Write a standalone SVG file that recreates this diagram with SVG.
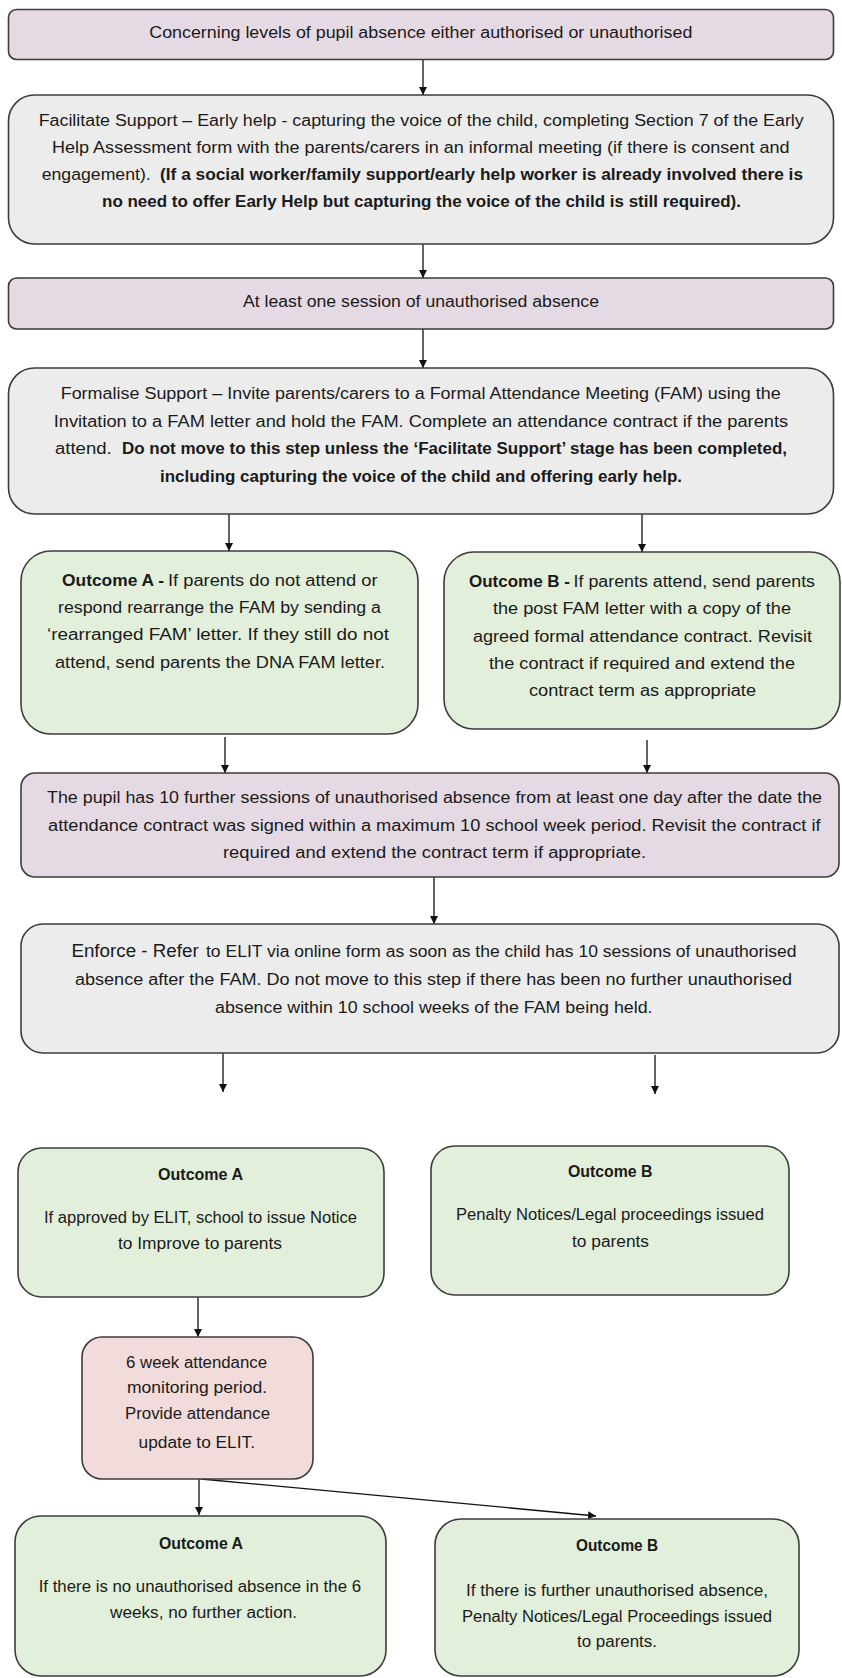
<svg xmlns="http://www.w3.org/2000/svg" width="842" height="1678" viewBox="0 0 842 1678">
<style>
.box{stroke:#3c3c3c;stroke-width:1.6}
.pu{fill:#e5d9e3}.gr{fill:#ececec}.gn{fill:#e2efda}.pk{fill:#f2dcdb}
text{font-family:"Liberation Sans",Arial,sans-serif;font-size:16px;fill:#1a1a1a}
.b{font-weight:bold}
.big{font-size:18px}
.c{stroke:#111;stroke-width:1.3;fill:none;marker-end:url(#ah)}
</style>
<defs>
<marker id="ah" markerWidth="10" markerHeight="10" refX="8" refY="4" orient="auto" markerUnits="userSpaceOnUse">
<path d="M0,0 L8,4 L0,8 Z" fill="#111"/>
</marker>
</defs>
<rect width="842" height="1678" fill="#ffffff"/>
<g id="connectors">
<path class="c" d="M423,59 V95"/>
<path class="c" d="M423,244 V278"/>
<path class="c" d="M423,329 V368"/>
<path class="c" d="M229,514 V551"/>
<path class="c" d="M642,514 V552"/>
<path class="c" d="M225,737 V773"/>
<path class="c" d="M647,740 V773"/>
<path class="c" d="M434,877 V924"/>
<path class="c" d="M223,1053 V1092"/>
<path class="c" d="M655,1055 V1094"/>
<path class="c" d="M198,1297 V1337"/>
<path class="c" d="M199,1479 V1515"/>
<path class="c" d="M201,1479 L596,1516"/>
</g>
<g id="n1">
<rect class="box pu" x="8.5" y="9.5" width="825" height="50" rx="8"/>
<text x="149.3" y="38" textLength="543" lengthAdjust="spacingAndGlyphs">Concerning levels of pupil absence either authorised or unauthorised</text>
</g>
<g id="n2">
<rect class="box gr" x="8.5" y="95" width="825" height="149" rx="26"/>
<text x="38.7" y="126" textLength="765" lengthAdjust="spacingAndGlyphs">Facilitate Support – Early help - capturing the voice of the child, completing Section 7 of the Early</text>
<text x="52" y="153" textLength="737.5" lengthAdjust="spacingAndGlyphs">Help Assessment form with the parents/carers in an informal meeting (if there is consent and</text>
<text x="41.7" y="180" textLength="109" lengthAdjust="spacingAndGlyphs">engagement).</text>
<text class="b" x="160" y="180" textLength="643" lengthAdjust="spacingAndGlyphs">(If a social worker/family support/early help worker is already involved there is</text>
<text class="b" x="102" y="207" textLength="639" lengthAdjust="spacingAndGlyphs">no need to offer Early Help but capturing the voice of the child is still required).</text>
</g>
<g id="n3">
<rect class="box pu" x="8.5" y="278" width="825" height="51" rx="8"/>
<text x="243" y="307" textLength="356" lengthAdjust="spacingAndGlyphs">At least one session of unauthorised absence</text>
</g>
<g id="n4">
<rect class="box gr" x="8.5" y="368" width="825" height="146" rx="26"/>
<text x="60.7" y="399" textLength="720" lengthAdjust="spacingAndGlyphs">Formalise Support – Invite parents/carers to a Formal Attendance Meeting (FAM) using the</text>
<text x="53.7" y="427" textLength="734.5" lengthAdjust="spacingAndGlyphs">Invitation to a FAM letter and hold the FAM.  Complete an attendance contract if the parents</text>
<text x="55" y="454" textLength="56.7" lengthAdjust="spacingAndGlyphs">attend.</text>
<text class="b" x="122" y="454" textLength="665" lengthAdjust="spacingAndGlyphs">Do not move to this step unless the ‘Facilitate Support’ stage has been completed,</text>
<text class="b" x="160" y="482" textLength="522" lengthAdjust="spacingAndGlyphs">including capturing the voice of the child and offering early help.</text>
</g>
<g id="n5">
<rect class="box gn" x="21" y="551" width="397" height="183" rx="30"/>
<text class="b" x="62" y="586" textLength="102" lengthAdjust="spacingAndGlyphs">Outcome A -</text>
<text x="168" y="586" textLength="209.5" lengthAdjust="spacingAndGlyphs">If parents do not attend or</text>
<text x="58" y="613" textLength="323" lengthAdjust="spacingAndGlyphs">respond rearrange the FAM by sending a</text>
<text x="47" y="640" textLength="342" lengthAdjust="spacingAndGlyphs">‘rearranged FAM’ letter.  If they still do not</text>
<text x="55" y="668" textLength="330" lengthAdjust="spacingAndGlyphs">attend, send parents the DNA FAM letter.</text>
</g>
<g id="n6">
<rect class="box gn" x="444" y="552" width="396" height="177" rx="30"/>
<text class="b" x="469" y="587" textLength="101" lengthAdjust="spacingAndGlyphs">Outcome B -</text>
<text x="573.6" y="587" textLength="241.4" lengthAdjust="spacingAndGlyphs">If parents attend, send parents</text>
<text x="493" y="614" textLength="298" lengthAdjust="spacingAndGlyphs">the post FAM letter with a copy of the</text>
<text x="473" y="642" textLength="339" lengthAdjust="spacingAndGlyphs">agreed formal attendance contract.  Revisit</text>
<text x="489" y="669" textLength="306" lengthAdjust="spacingAndGlyphs">the contract if required and extend the</text>
<text x="529" y="696" textLength="227" lengthAdjust="spacingAndGlyphs">contract term as appropriate</text>
</g>
<g id="n7">
<rect class="box pu" x="21" y="773" width="818" height="104" rx="14"/>
<text x="47" y="803" textLength="775" lengthAdjust="spacingAndGlyphs">The pupil has 10 further sessions of unauthorised absence from at least one day after the date the</text>
<text x="48" y="831" textLength="772.6" lengthAdjust="spacingAndGlyphs">attendance contract was signed within a maximum 10 school week period.   Revisit the contract if</text>
<text x="223" y="858" textLength="423" lengthAdjust="spacingAndGlyphs">required and extend the contract term if appropriate.</text>
</g>
<g id="n8">
<rect class="box gr" x="21" y="924" width="818" height="129" rx="22"/>
<text class="big" x="71.4" y="957" textLength="127.3" lengthAdjust="spacingAndGlyphs">Enforce - Refer</text>
<text x="206" y="957" textLength="590.5" lengthAdjust="spacingAndGlyphs">to ELIT via online form as soon as the child has 10 sessions of unauthorised</text>
<text x="75" y="985" textLength="717" lengthAdjust="spacingAndGlyphs">absence after the FAM. Do not move to this step if there has been no further unauthorised</text>
<text x="215" y="1013" textLength="437.5" lengthAdjust="spacingAndGlyphs">absence within 10 school weeks of the FAM being held.</text>
</g>
<g id="n9">
<rect class="box gn" x="18" y="1148" width="366" height="149" rx="24"/>
<text class="b" x="158" y="1180" textLength="85" lengthAdjust="spacingAndGlyphs">Outcome A</text>
<text x="44" y="1223" textLength="313" lengthAdjust="spacingAndGlyphs">If approved by ELIT, school to issue Notice</text>
<text x="118" y="1249" textLength="164" lengthAdjust="spacingAndGlyphs">to Improve to parents</text>
</g>
<g id="n10">
<rect class="box gn" x="431" y="1146" width="358" height="149" rx="24"/>
<text class="b" x="568" y="1177" textLength="84.5" lengthAdjust="spacingAndGlyphs">Outcome B</text>
<text x="456" y="1220" textLength="308" lengthAdjust="spacingAndGlyphs">Penalty Notices/Legal proceedings issued</text>
<text x="572" y="1247" textLength="77" lengthAdjust="spacingAndGlyphs">to parents</text>
</g>
<g id="n11">
<rect class="box pk" x="82" y="1337" width="231" height="142" rx="20"/>
<text x="126" y="1368" textLength="141" lengthAdjust="spacingAndGlyphs">6 week attendance</text>
<text x="127" y="1393" textLength="140" lengthAdjust="spacingAndGlyphs">monitoring period.</text>
<text x="125" y="1419" textLength="145" lengthAdjust="spacingAndGlyphs">Provide attendance</text>
<text x="138.6" y="1448" textLength="116.4" lengthAdjust="spacingAndGlyphs">update to ELIT.</text>
</g>
<g id="n12">
<rect class="box gn" x="15" y="1516" width="371" height="160" rx="26"/>
<text class="b" x="159" y="1549" textLength="84" lengthAdjust="spacingAndGlyphs">Outcome A</text>
<text x="38.7" y="1592" textLength="322.3" lengthAdjust="spacingAndGlyphs">If there is no unauthorised absence in the 6</text>
<text x="110" y="1618" textLength="187" lengthAdjust="spacingAndGlyphs">weeks, no further action.</text>
</g>
<g id="n13">
<rect class="box gn" x="435" y="1519" width="364" height="157" rx="26"/>
<text class="b" x="576" y="1551" textLength="82" lengthAdjust="spacingAndGlyphs">Outcome B</text>
<text x="466" y="1596" textLength="302" lengthAdjust="spacingAndGlyphs">If there is further unauthorised absence,</text>
<text x="462" y="1622" textLength="310" lengthAdjust="spacingAndGlyphs">Penalty Notices/Legal Proceedings issued</text>
<text x="577" y="1647" textLength="80" lengthAdjust="spacingAndGlyphs">to parents.</text>
</g>
</svg>
